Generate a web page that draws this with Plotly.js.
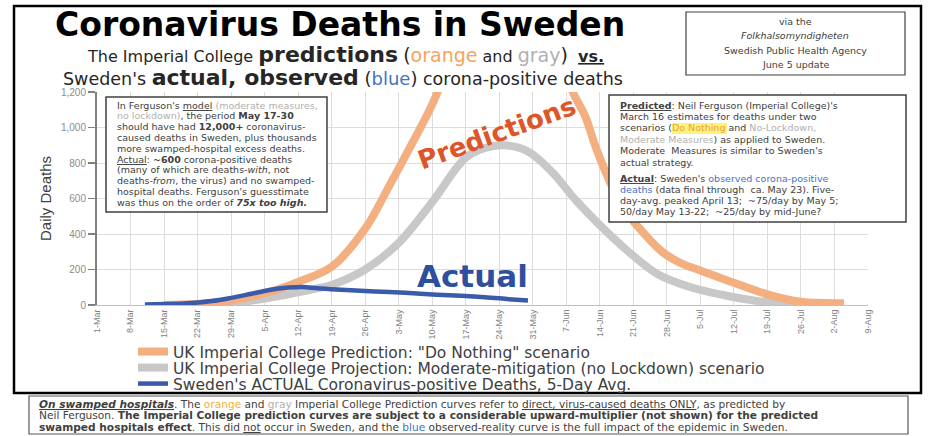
<!DOCTYPE html>
<html>
<head>
<meta charset="utf-8">
<script src="https://cdn.plot.ly/plotly-3.0.1.min.js"></script>
<style>html,body{margin:0;padding:0;background:#fff;}#chart{width:934px;height:436px;}</style>
</head>
<body>
<div id="chart"></div>
<script>
// ---- data ----
const orangeDates = ['2020-03-15','2020-03-22','2020-03-29','2020-04-05','2020-04-12','2020-04-19','2020-04-26','2020-05-01','2020-05-06','2020-05-10','2020-05-14','2020-05-19','2020-05-25','2020-05-31','2020-06-04','2020-06-08','2020-06-11','2020-06-13','2020-06-16','2020-06-19','2020-06-23','2020-06-27','2020-07-01','2020-07-05','2020-07-12','2020-07-19','2020-07-26','2020-08-04'];
const orangeVals  = [0,5,25,65,130,215,430,670,920,1130,1400,1800,2050,1950,1550,1220,1060,900,700,540,410,300,235,195,125,60,18,10];

const grayDates = ['2020-03-18','2020-03-25','2020-04-01','2020-04-08','2020-04-15','2020-04-19','2020-04-26','2020-05-03','2020-05-10','2020-05-17','2020-05-21','2020-05-25','2020-05-30','2020-06-04','2020-06-09','2020-06-14','2020-06-20','2020-06-26','2020-07-03','2020-07-10','2020-07-17','2020-07-24','2020-08-02'];
const grayVals  = [0,5,20,50,88,113,200,350,580,830,885,900,865,750,590,450,300,175,100,55,22,8,3];

const blueDates = ['2020-03-11','2020-03-15','2020-03-20','2020-03-25','2020-03-29','2020-04-02','2020-04-06','2020-04-10','2020-04-13','2020-04-16','2020-04-20','2020-04-25','2020-05-01','2020-05-06','2020-05-11','2020-05-16','2020-05-21','2020-05-26','2020-05-30'];
const blueVals  = [3,5,10,22,40,62,85,98,101,94,87,80,73,66,58,52,44,33,25];

const seriesNames = [
  'UK Imperial College Prediction: "Do Nothing" scenario',
  'UK Imperial College Projection: Moderate-mitigation (no Lockdown) scenario',
  "Sweden's ACTUAL Coronavirus-positive Deaths, 5-Day Avg."
];
const yTicks = [0,200,400,600,800,1000,1200];

// ---- layout helpers ----
const W = 934, H = 436, ML = 97, MR = 66, MT = 92, MB = 131;
const PW = W - ML - MR, PH = H - MT - MB;
const px = x => (x - ML) / PW;
const py = y => (H - MB - y) / PH;

const SMALL = 'DejaVu Sans';
function T(x, y, text, size, opts) {
  return Object.assign({
    xref: 'paper', yref: 'paper', x: px(x), y: py(y), text: text,
    showarrow: false, xanchor: 'left', yanchor: 'middle',
    font: {family: SMALL, size: size, color: '#404040'}
  }, opts || {});
}
function box(x0, y0, x1, y1, color, width, fill) {
  return {type: 'rect', xref: 'paper', yref: 'paper', layer: 'above',
    x0: px(x0), x1: px(x1), y0: py(y0), y1: py(y1),
    line: {color: color, width: width}, fillcolor: fill || 'rgba(255,255,255,1)'};
}

const leftLines = [
  "In Ferguson's <u>model</u> <span style=\"color:#B0B0B0\">(moderate measures,</span>",
  "<span style=\"color:#B0B0B0\">no lockdown)</span>, the period <b>May 17-30</b>",
  "should have had <b>12,000+</b> coronavirus-",
  "caused deaths in Sweden, plus thousands",
  "more swamped-hospital excess deaths.",
  "<u>Actual</u>: <b>~600</b> corona-positive deaths",
  "(many of which are deaths-<i>with</i>, not",
  "deaths-<i>from</i>, the virus) and no swamped-",
  "hospital deaths. Ferguson's guesstimate",
  "was thus on the order of <b><i>75x too high.</i></b>"
];
const rightLines = [
  "<b><u>Predicted</u></b>: Neil Ferguson (Imperial College)'s",
  "March 16 estimates for deaths under two",
  "scenarios (<span style=\"color:#E8A33C\">Do Nothing</span> and <span style=\"color:#B0B0B0\">No-Lockdown,</span>",
  "<span style=\"color:#B0B0B0\">Moderate Measures</span>) as applied to Sweden.",
  "Moderate  Measures is similar to Sweden's",
  "actual strategy.",
  "<b><u>Actual</u></b>: Sweden's <span style=\"color:#4472C4\">observed corona-positive</span>",
  "<span style=\"color:#4472C4\">deaths</span> (data final through  ca. May 23). Five-",
  "day-avg. peaked April 13;  ~75/day by May 5;",
  "50/day May 13-22;  ~25/day by mid-June?"
];
const footLines = [
  "<b><i><u>On swamped hospitals</u></i></b>. The <span style=\"color:#F2B134\">orange</span> and <span style=\"color:#B0B0B0\">gray</span> Imperial College Prediction curves refer to <u>direct, virus-caused deaths ONLY</u>, as predicted by",
  "Neil Ferguson. <b>The Imperial College prediction curves are subject to a considerable upward-multiplier (not shown) for the predicted</b>",
  "<b>swamped hospitals effect</b>. This did <u>not</u> occur in Sweden, and the <span style=\"color:#4472C4\">blue</span> observed-reality curve is the full impact of the epidemic in Sweden."
];

const annotations = [];
// header
annotations.push(T(340, 24, '<b>Coronavirus Deaths in Sweden</b>', 33,
  {xanchor: 'center', font: {family: 'DejaVu Sans', size: 33, color: '#000'}}));
annotations.push(T(345, 54,
  'The Imperial College <b><span style="font-size:22px">predictions</span></b> <span style="font-size:19px">(</span><span style="font-size:19px;color:#F4A460">orange</span> and <span style="font-size:19px;color:#B0B0B0">gray</span><span style="font-size:19px">)</span>  <b><u>vs.</u></b>', 16,
  {xanchor: 'center', font: {family: 'DejaVu Sans', size: 16, color: '#262626'}}));
annotations.push(T(343, 77,
  'Sweden\'s <b><span style="font-size:22px">actual, observed</span></b> <span style="font-size:18px">(</span><span style="font-size:18px;color:#4472C4">blue</span><span style="font-size:18px">)</span> corona-positive deaths', 17.5,
  {xanchor: 'center', font: {family: 'DejaVu Sans', size: 17.5, color: '#262626'}}));
// top-right source box
const srcLines = ['via the', '<i>Folkhalsomyndigheten</i>', 'Swedish Public Health Agency', 'June 5 update'];
srcLines.forEach((s, i) => annotations.push(T(795, 21 + i * 14.5, s, 9.5, {xanchor: 'center'})));
// left note box
leftLines.forEach((s, i) => annotations.push(T(115, 105 + i * 10.8, s, 9.5)));
// right note box
rightLines.forEach((s, i) => annotations.push(T(618, (i < 6 ? 105 + i * 11.4 : 178 + (i - 6) * 11.2), s, 9.5)));
// footnote
footLines.forEach((s, i) => annotations.push(T(37, 403.5 + i * 11.6, s, 10.6)));
// curve labels
annotations.push(T(497, 133, '<b>Predictions</b>', 26,
  {xanchor: 'center', textangle: -20, font: {family: 'DejaVu Sans', size: 26, color: '#DD5528'}}));
annotations.push(T(472, 276, '<b>Actual</b>', 31,
  {xanchor: 'center', font: {family: 'DejaVu Sans', size: 31, color: '#2E4F9E'}}));

const shapes = [
  {type: 'rect', xref: 'paper', yref: 'paper', layer: 'below',
   x0: px(14), x1: px(921), y0: py(6), y1: py(393), line: {color: '#000', width: 2.5}},
  box(686, 12, 905, 75, '#404040', 1.2),
  box(106, 97, 327, 212, '#404040', 1.5),
  box(609, 95, 906, 222, '#404040', 1.5),
  box(672, 123, 727, 134, 'rgba(0,0,0,0)', 0, '#FFF27A'),
  box(29, 396, 908, 434, '#595959', 1.2)
];

const traces = [
  {x: grayDates, y: grayVals, name: seriesNames[1], type: 'scatter', mode: 'lines',
   line: {color: '#C8C8C8', width: 8, shape: 'spline'}, legend: 'legend2'},
  {x: orangeDates, y: orangeVals, name: seriesNames[0], type: 'scatter', mode: 'lines',
   line: {color: '#F4AF80', width: 8, shape: 'spline'}, legend: 'legend'},
  {x: blueDates, y: blueVals, name: seriesNames[2], type: 'scatter', mode: 'lines',
   line: {color: '#3A5BA9', width: 4.5, shape: 'spline'}, legend: 'legend3'}
];

const legFont = {family: 'DejaVu Sans', size: 15.5, color: '#404040'};
const legRow = y => ({x: px(133), y: py(y), xanchor: 'left', yanchor: 'middle',
  font: legFont, bgcolor: 'rgba(0,0,0,0)', borderwidth: 0});

const layout = {
  width: W, height: H,
  margin: {l: ML, r: MR, t: MT, b: MB, pad: 0},
  paper_bgcolor: '#fff', plot_bgcolor: '#fff',
  showlegend: true,
  legend: legRow(352),
  legend2: legRow(368),
  legend3: legRow(384),
  xaxis: {type: 'date', range: ['2020-03-01', '2020-08-09'],
    tick0: '2020-03-01', dtick: 7 * 86400000, tickformat: '%-d-%b', tickangle: -90,
    tickfont: {family: 'Liberation Sans Narrow, Liberation Sans', size: 9, color: '#7f7f7f'},
    showgrid: true, gridcolor: '#DDDDDD', gridwidth: 1,
    showline: true, linecolor: '#BFBFBF', linewidth: 1, ticks: '', zeroline: false,
    fixedrange: true},
  yaxis: {range: [0, 1200], tickvals: yTicks, tickformat: ',',
    tickfont: {family: 'Liberation Sans Narrow, Liberation Sans', size: 10, color: '#8c8c8c'},
    showgrid: true, gridcolor: '#DDDDDD', gridwidth: 1,
    showline: true, linecolor: '#7f7f7f', linewidth: 2,
    ticks: 'outside', ticklen: 7, tickcolor: '#7f7f7f', tickwidth: 1.5,
    zeroline: false, fixedrange: true,
    title: {text: 'Daily Deaths', standoff: 6,
      font: {family: 'Liberation Sans Narrow, Liberation Sans', size: 15, color: '#404040'}}},
  shapes: shapes,
  annotations: annotations
};

Plotly.newPlot('chart', traces, layout, {staticPlot: true, displayModeBar: false});
</script>
</body>
</html>
